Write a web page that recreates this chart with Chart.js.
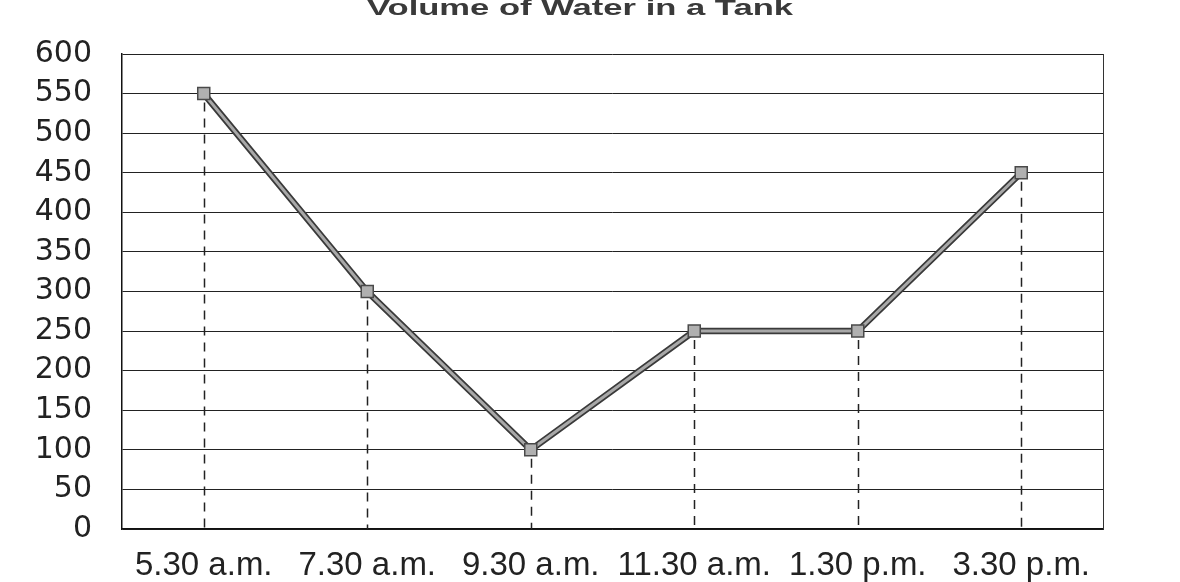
<!DOCTYPE html>
<html>
<head>
<meta charset="utf-8">
<script src="https://cdn.jsdelivr.net/npm/chart.js@4/dist/chart.umd.min.js"></script>
<style>
  html, body { margin: 0; padding: 0; background: #fff; overflow: hidden; width: 1180px; height: 582px; }
  #wrap { position: absolute; left: 0; top: 0; width: 1180px; height: 582px; }
</style>
</head>
<body>
<div id="wrap"><canvas id="c" width="1180" height="582"></canvas></div>
<script>
const chartTitle = "Volume of Water in a Tank";
const categories = ["5.30 a.m.", "7.30 a.m.", "9.30 a.m.", "11.30 a.m.", "1.30 p.m.", "3.30 p.m."];
const volumes = [550, 300, 100, 250, 250, 450];
const yMin = 0, yMax = 600, yStep = 50;

const dropLines = {
  id: 'dropLines',
  beforeDatasetsDraw(chart) {
    const { ctx, scales: { x, y } } = chart;
    ctx.save();
    ctx.strokeStyle = '#222';
    ctx.lineWidth = 1.5;
    ctx.setLineDash([9, 7]);
    volumes.forEach((v, i) => {
      const px = Math.round(x.getPixelForValue(i)) + 0.5;
      ctx.beginPath();
      ctx.moveTo(px, y.getPixelForValue(v) + 9);
      ctx.lineTo(px, y.getPixelForValue(yMin));
      ctx.stroke();
    });
    ctx.restore();
  }
};

const stretchedTitle = {
  id: 'stretchedTitle',
  afterDraw(chart) {
    const ctx = chart.ctx;
    ctx.save();
    ctx.font = 'bold 22px "Liberation Sans", Arial, sans-serif';
    ctx.fillStyle = '#3a3a3a';
    ctx.textBaseline = 'alphabetic';
    ctx.textAlign = 'center';
    const w = ctx.measureText(chartTitle).width;
    const sx = 426 / w;
    ctx.translate(580, 15);
    ctx.scale(sx, 1);
    ctx.fillText(chartTitle, 0, 0);
    ctx.restore();
  }
};

new Chart(document.getElementById('c'), {
  type: 'line',
  data: {
    labels: categories,
    datasets: [
      {
        data: volumes,
        borderColor: '#3a3a3a',
        borderWidth: 6.5,
        pointRadius: 0,
        tension: 0,
        order: 2
      },
      {
        data: volumes,
        borderColor: '#a8a8a8',
        borderWidth: 3,
        pointStyle: 'rect',
        pointRadius: 8.5,
        pointBackgroundColor: '#b0b0b0',
        pointBorderColor: '#4a4a4a',
        pointBorderWidth: 1.5,
        tension: 0,
        order: 1
      }
    ]
  },
  options: {
    responsive: false,
    animation: false,
    layout: { padding: { left: 10, right: 77, top: 54, bottom: 0 } },
    plugins: {
      legend: { display: false },
      tooltip: { enabled: false },
      title: { display: false }
    },
    scales: {
      x: {
        offset: true,
        grid: { display: false, drawTicks: false },
        border: { display: true, color: '#111', width: 1.5 },
        ticks: {
          color: '#222',
          padding: 17,
          maxRotation: 0,
          autoSkip: false,
          font: { family: 'Liberation Sans, Arial, sans-serif', size: 33 }
        },
        afterFit(scale) { scale.height = 53; }
      },
      y: {
        min: yMin,
        max: yMax,
        grid: { color: '#222', lineWidth: 1, drawTicks: false },
        border: { display: true, color: '#111', width: 1.5 },
        ticks: {
          stepSize: yStep,
          color: '#222',
          padding: 30,
          font: { family: 'DejaVu Sans, sans-serif', size: 30 }
        },
        afterFit(scale) { scale.width = 112; }
      },
      y2: {
        position: 'right',
        min: yMin,
        max: yMax,
        grid: { display: false, drawTicks: false },
        border: { display: true, color: '#333', width: 1, dash: [6, 2] },
        ticks: { display: false },
        afterFit(scale) { scale.width = 0; }
      }
    }
  },
  plugins: [dropLines, stretchedTitle]
});
</script>
</body>
</html>
